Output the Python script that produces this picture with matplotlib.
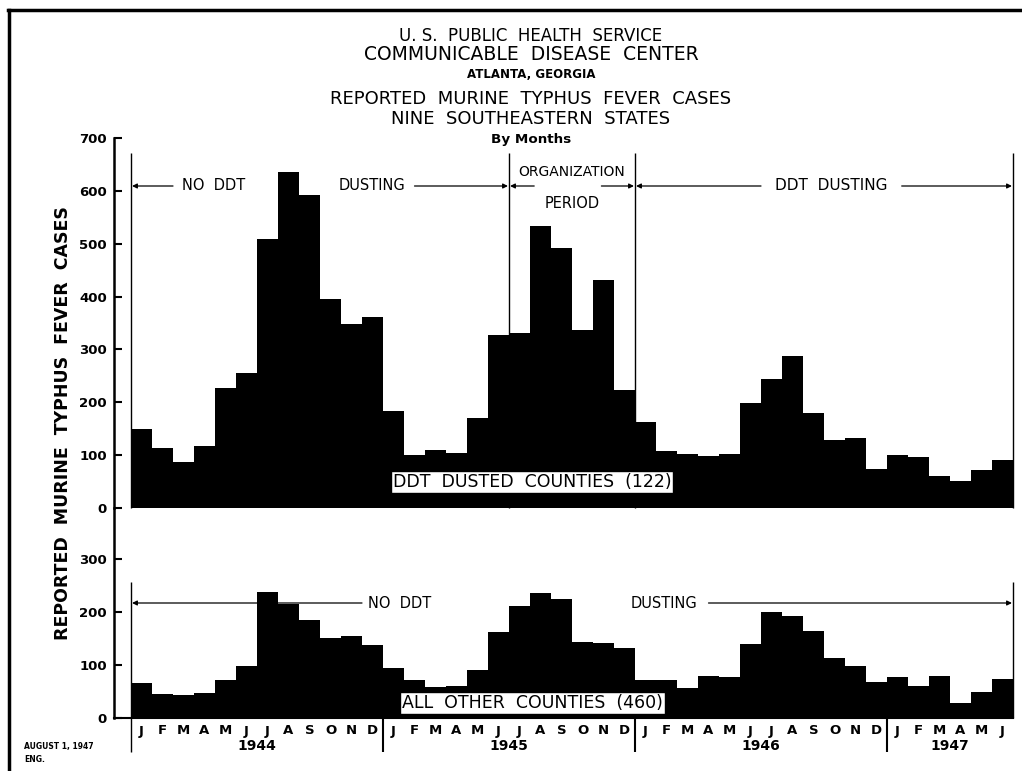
import matplotlib.pyplot as plt
from matplotlib.lines import Line2D

# monthly reported cases, Jan 1944 - Jun 1947
months = list("JFMAMJJASOND") * 3 + list("JFMAMJ")
years = ["1944", "1945", "1946", "1947"]
dusted = [150, 114, 87, 117, 227, 256, 509, 635, 592, 395, 349, 362,
          184, 101, 109, 104, 171, 328, 332, 533, 491, 337, 431, 224,
          163, 108, 102, 98, 102, 198, 245, 288, 180, 128, 133, 73,
          100, 97, 61, 51, 71, 90]
others = [67, 46, 44, 48, 72, 99, 238, 216, 185, 152, 155, 138,
          94, 72, 58, 60, 90, 162, 211, 237, 225, 143, 141, 132,
          72, 72, 57, 79, 78, 140, 200, 193, 164, 114, 99, 68,
          78, 61, 79, 29, 49, 74]
top_ticks = [0, 100, 200, 300, 400, 500, 600, 700]
bot_ticks = [0, 100, 200, 300]

W, H = 1022, 771
PX = 370 / 700  # pixels per case
FONT = "DejaVu Sans"


def rect(l, t, r, b):
    return [l / W, 1 - b / H, (r - l) / W, (b - t) / H]


def arrow(ax, x_from, x_to, y):
    ax.annotate("", xy=(x_to, y), xytext=(x_from, y),
                arrowprops=dict(arrowstyle="-|>", lw=0.9, color="black",
                                mutation_scale=7, shrinkA=0, shrinkB=0),
                annotation_clip=False)


def vline(ax, x, y0, y1, lw=1.0):
    ax.plot([x, x], [y0, y1], color="black", lw=lw, clip_on=False,
            solid_capstyle="butt")


fig = plt.figure(figsize=(W / 100, H / 100), dpi=100)
ax_top = fig.add_axes(rect(114, 138, 1013, 508))
ax_bot = fig.add_axes(rect(114, 508, 1013, 718))

xs = list(range(len(months)))
x_left = -17 / 21

for ax, vals, ymax, ticks in [(ax_top, dusted, 700, top_ticks),
                              (ax_bot, others, 210 / PX, bot_ticks)]:
    ax.bar(xs, vals, width=1.0, align="edge", color="black", lw=0)
    ax.set_xlim(x_left, 42)
    ax.set_ylim(0, ymax)
    ax.set_yticks(ticks)
    ax.set_yticklabels([str(t) for t in ticks], fontsize=9.5,
                       fontweight="bold", family=FONT)
    ax.tick_params(axis="y", direction="in", length=6, width=1.5, pad=5)
    ax.set_xticks([])
    for s in ["top", "right", "bottom"]:
        ax.spines[s].set_visible(False)
    ax.spines["left"].set_linewidth(1.8)
    ax.patch.set_alpha(0)

ax_bot.spines["bottom"].set_visible(True)
ax_bot.spines["bottom"].set_linewidth(1.5)

# ---- top panel annotations
y_arr = (508 - 186) / PX
y_line_top = (508 - 153) / PX
for x in [0, 18, 24, 42]:
    vline(ax_top, x, 0, y_line_top)
arrow(ax_top, 2.0, 0.05, y_arr)
ax_top.text(2.45, y_arr, "NO  DDT", fontsize=10.5, family=FONT, va="center")
ax_top.text(9.9, y_arr, "DUSTING", fontsize=10.5, family=FONT, va="center")
arrow(ax_top, 13.5, 17.95, y_arr)
arrow(ax_top, 19.2, 18.05, y_arr)
arrow(ax_top, 22.4, 23.95, y_arr)
ax_top.text(21.0, (508 - 172) / PX, "ORGANIZATION", fontsize=10,
            family=FONT, ha="center", va="center")
ax_top.text(21.0, (508 - 203) / PX, "PERIOD", fontsize=10.5,
            family=FONT, ha="center", va="center")
arrow(ax_top, 30.0, 24.05, y_arr)
ax_top.text(33.35, y_arr, "DDT  DUSTING", fontsize=11, family=FONT,
            ha="center", va="center")
arrow(ax_top, 36.7, 41.95, y_arr)
ax_top.text(19.1, (508 - 482) / PX, "DDT  DUSTED  COUNTIES  (122)",
            fontsize=12.5, family=FONT, ha="center", va="center",
            bbox=dict(boxstyle="square,pad=0.12", fc="white", ec="black",
                      lw=1))

# ---- bottom panel annotations
y_arr_b = (718 - 603) / PX
y_low = -(752 - 718) / PX
vline(ax_bot, 0, y_low, (718 - 582) / PX)
vline(ax_bot, 42, 0, (718 - 582) / PX)
for x in [12, 24, 36]:
    vline(ax_bot, x, y_low, 0, lw=1.5)
arrow(ax_bot, 11.0, 0.05, y_arr_b)
ax_bot.text(11.3, y_arr_b, "NO  DDT", fontsize=10.5, family=FONT,
            va="center")
ax_bot.text(23.8, y_arr_b, "DUSTING", fontsize=10.5, family=FONT,
            va="center")
arrow(ax_bot, 27.5, 41.95, y_arr_b)
ax_bot.text(19.1, (718 - 703) / PX, "ALL  OTHER  COUNTIES  (460)",
            fontsize=12.5, family=FONT, ha="center", va="center",
            bbox=dict(boxstyle="square,pad=0.12", fc="white", ec="black",
                      lw=1))

# month letters and years
y_month = -(731 - 718) / PX
y_year = -(746 - 718) / PX
for i, m in enumerate(months):
    ax_bot.text(i + 0.5, y_month, m, fontsize=9.5, fontweight="bold",
                family=FONT, ha="center", va="center", clip_on=False)
for k, yr in enumerate(years):
    n = min(12, len(months) - 12 * k)
    ax_bot.text(12 * k + n / 2, y_year, yr, fontsize=10, fontweight="bold",
                family=FONT, ha="center", va="center", clip_on=False)

# axis label
fig.text(63 / W, 1 - 423 / H, "REPORTED  MURINE  TYPHUS  FEVER  CASES",
         rotation=90, fontsize=12.5, fontweight="bold", family=FONT,
         ha="center", va="center")

# titles
cx = 531 / W
for txt, ypx, size, weight in [
        ("U. S.  PUBLIC  HEALTH  SERVICE", 36, 12, "normal"),
        ("COMMUNICABLE  DISEASE  CENTER", 55, 13.5, "normal"),
        ("ATLANTA, GEORGIA", 74, 8.5, "bold"),
        ("REPORTED  MURINE  TYPHUS  FEVER  CASES", 99, 13, "normal"),
        ("NINE  SOUTHEASTERN  STATES", 119, 13, "normal"),
        ("By Months", 139, 9.7, "bold")]:
    fig.text(cx, 1 - ypx / H, txt, fontsize=size, fontweight=weight,
             family=FONT, ha="center", va="center")

fig.text(24 / W, 1 - 747 / H, "AUGUST 1, 1947", fontsize=5.5,
         fontweight="bold", family=FONT, va="center")
fig.text(24 / W, 1 - 759 / H, "ENG.", fontsize=5.5, fontweight="bold",
         family=FONT, va="center")

# page frame
fig.add_artist(Line2D([8 / W, 1], [1 - 10 / H, 1 - 10 / H], color="black",
                      lw=2.5, transform=fig.transFigure))
fig.add_artist(Line2D([9 / W, 9 / W], [0, 1 - 10 / H], color="black",
                      lw=2.5, transform=fig.transFigure))

fig.savefig("out.png", dpi=100, facecolor="white")
